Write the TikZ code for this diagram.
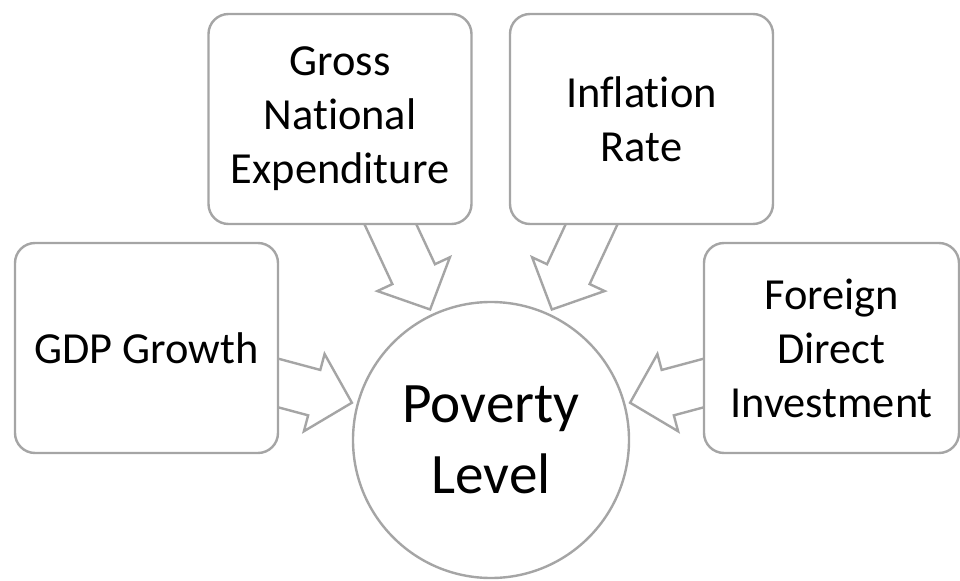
\documentclass[tikz,border=0pt]{standalone}
\usepackage{fontspec}
\setmainfont{Carlito}[Ligatures=NoCommon]
\usepackage{xcolor}
\usetikzlibrary{positioning,calc}
\definecolor{linegray}{RGB}{165,165,165}

\begin{document}
\begin{tikzpicture}[
  x=0.5pt, y=0.5pt,
  factor/.style={
    rectangle, draw=linegray, line width=1.2pt, rounded corners=10pt,
    fill=white, minimum width=131.5pt, minimum height=105pt,
    inner sep=0pt, align=center,
    font=\fontsize{22.2}{27}\selectfont
  },
  hub/.style={
    circle, draw=linegray, line width=1.2pt, fill=white,
    minimum size=138pt, inner sep=0pt, align=center,
    font=\fontsize{28.6}{35.5}\selectfont
  },
  blockarrow/.style={draw=linegray, line width=1.2pt, fill=white, line join=miter}
]
\useasboundingbox (0,0) rectangle (960,580);

\node[hub] (pov) at (491,140) {Poverty\\Level};

% block arrows first, the boxes cover their tails
\foreach \ang in {165,115,65,15}{
  \begin{scope}[shift={(pov.center)}, rotate=\ang]
    \draw[blockarrow] (144,0) -- (183,40) -- (183,23.5) -- (260,23.5)
      -- (260,-23.5) -- (183,-23.5) -- (183,-40) -- cycle;
  \end{scope}
}

\node[factor] (gdp) at (146.5,232) {GDP Growth};
\node[factor] (gne) at (340,461) {Gross\\National\\Expenditure};
\node[factor] (inf) at (641.5,461) {Inflation\\Rate};
\node[factor, minimum width=127.5pt] (fdi) at (831.5,232) {Foreign\\Direct\\Investment};
\end{tikzpicture}
\end{document}
